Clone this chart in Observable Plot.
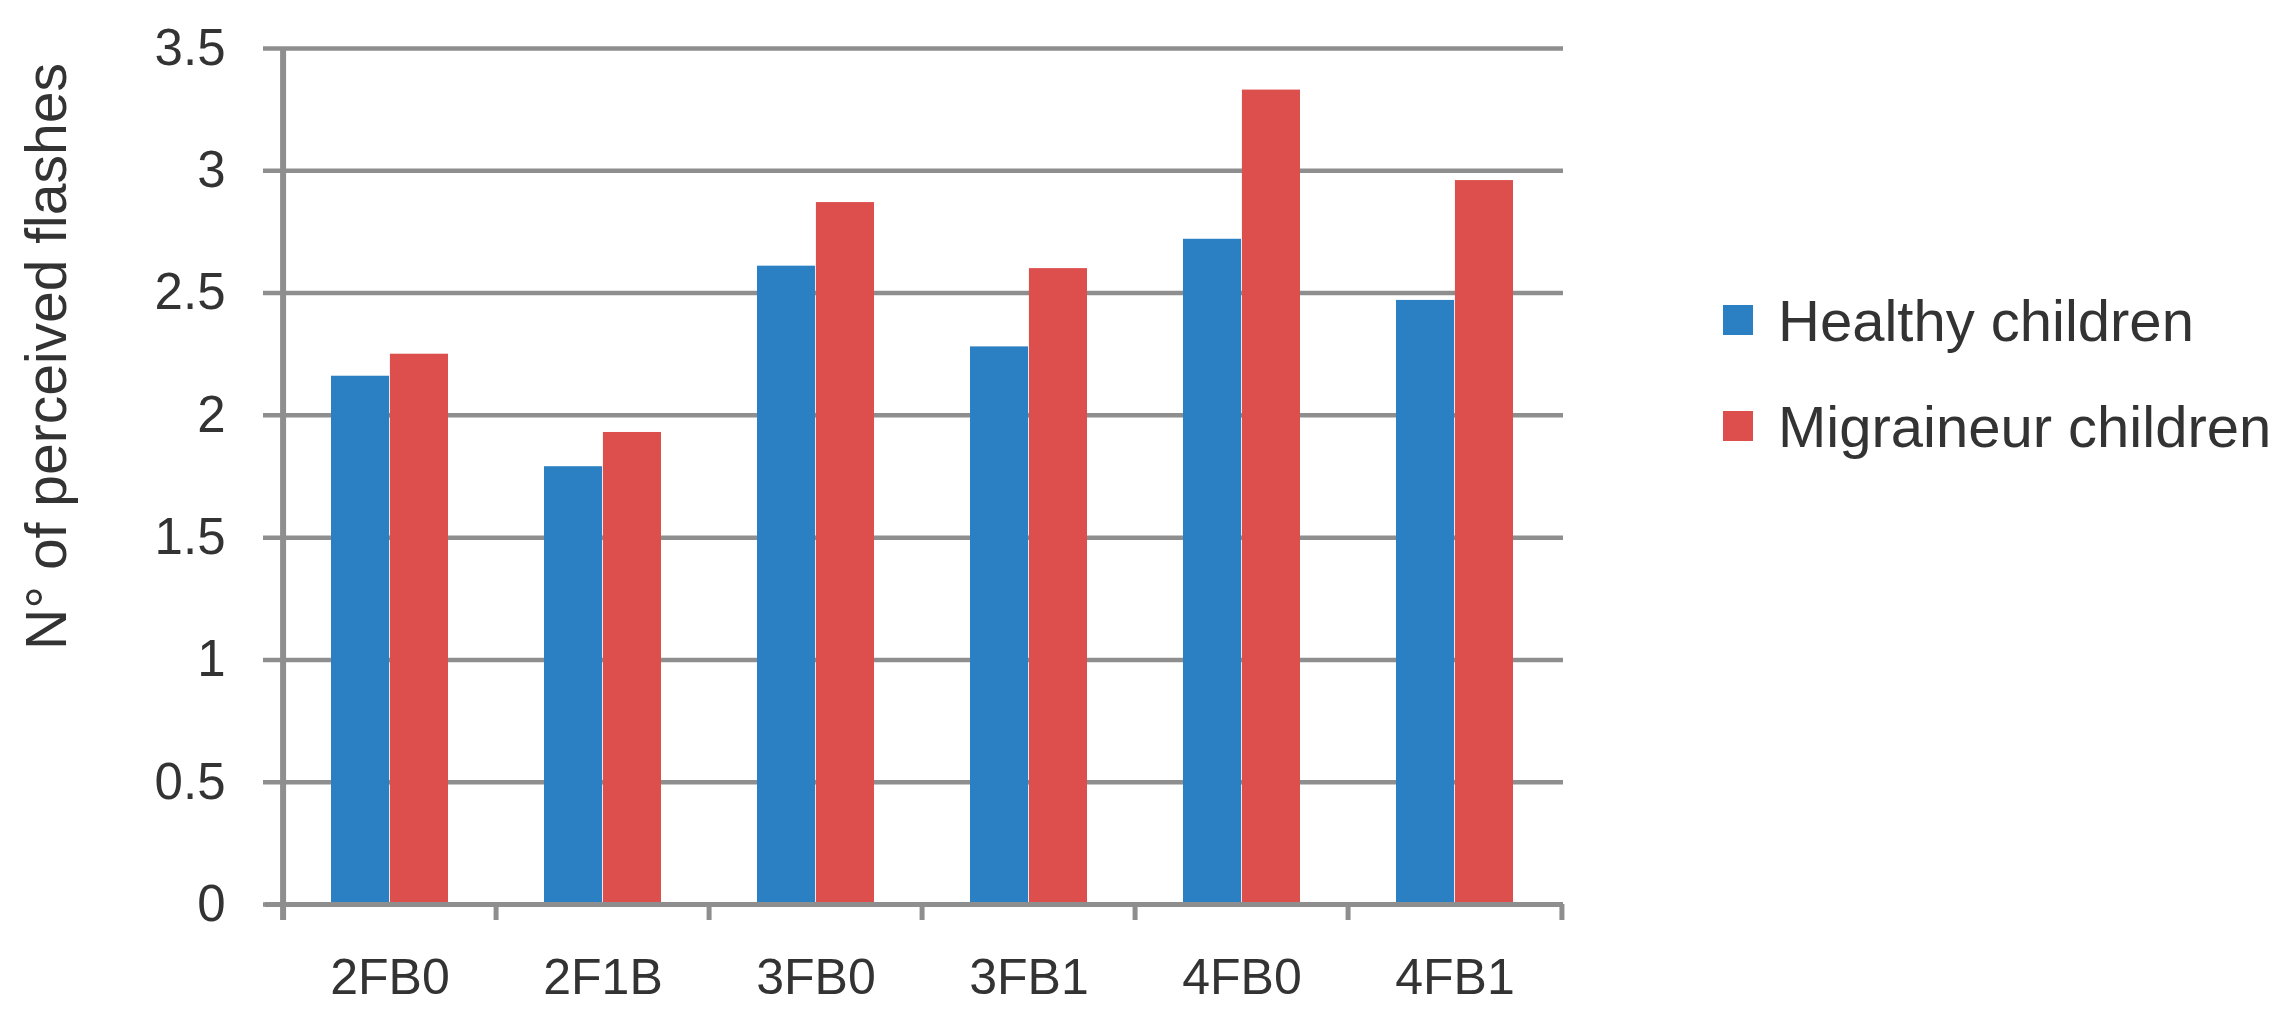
<!DOCTYPE html>
<html>
<head>
<meta charset="utf-8">
<script src="https://cdn.jsdelivr.net/npm/d3@7"></script>
<script src="https://cdn.jsdelivr.net/npm/@observablehq/plot@0.6"></script>
<style>
  html, body { margin: 0; padding: 0; background: #fff; }
  #wrap { display: flex; flex-direction: row; align-items: flex-start; width: 2295px; height: 1028px; overflow: hidden; }
  #chart svg { flex-shrink: 0; max-width: none; }
  #legend { margin-left: 23px; padding-top: 267px; font-family: "Liberation Sans", Arial, sans-serif; font-size: 58px; color: #333; }
  .item { display: flex; align-items: center; height: 106px; white-space: nowrap; }
  .swatch { width: 30px; height: 30px; margin-right: 25px; flex-shrink: 0; }
</style>
</head>
<body>
<div id="wrap">
  <div id="chart"></div>
  <div id="legend"></div>
</div>
<script>
// ---- data ----
const categories = ["2FB0", "2F1B", "3FB0", "3FB1", "4FB0", "4FB1"];
const seriesNames = ["Healthy children", "Migraineur children"];
const healthy = [2.16, 1.79, 2.61, 2.28, 2.72, 2.47];
const migraineur = [2.25, 1.93, 2.87, 2.60, 3.33, 2.96];
const yTicks = [0, 0.5, 1, 1.5, 2, 2.5, 3, 3.5];
const yTitle = "N° of perceived flashes";
const colors = ["#2a80c2", "#dd4f4d"];

// ---- table ----
const table = [];
categories.forEach((c, i) => {
  table.push({category: c, series: seriesNames[0], value: healthy[i]});
  table.push({category: c, series: seriesNames[1], value: migraineur[i]});
});

// ---- layout ----
const W = 1700, H = 1028;
const mL = 280, mR = 137, mT = 48, mB = 124;
const band = (W - mL - mR) / categories.length;
const outer = 0.2245 * band;
const barW = (band - 2 * outer) / 2;
const gray = "#8e8e8e";

const chart = Plot.plot({
  width: W,
  height: H,
  marginLeft: mL,
  marginRight: mR,
  marginTop: mT,
  marginBottom: mB,
  style: {fontFamily: "Liberation Sans, Arial, sans-serif", background: "#fff", overflow: "visible"},
  x: {domain: categories, padding: 0, axis: null},
  y: {domain: [0, 3.5], axis: null},
  color: {domain: seriesNames, range: colors},
  marks: [
    // gridlines + left tick stubs
    Plot.ruleY(yTicks, {y: d => d, stroke: gray, strokeWidth: 4.5, insetLeft: -17}),
    // y tick labels
    Plot.axisY({ticks: yTicks, tickSize: 0, tickPadding: 55, tickFormat: d => String(d), fontSize: 51, color: "#333", label: null}),
    // bars
    Plot.barY(table.filter(d => d.series === seriesNames[0]), {
      x: "category", y: "value", fill: "series",
      insetLeft: outer, insetRight: band - outer - barW
    }),
    Plot.barY(table.filter(d => d.series === seriesNames[1]), {
      x: "category", y: "value", fill: "series",
      insetLeft: outer + barW, insetRight: outer
    }),
    // vertical axis line (left edge of first band), extending below zero
    Plot.ruleX([categories[0]], {x: d => d, dx: -band / 2, stroke: gray, strokeWidth: 6, insetBottom: -16}),
    // category boundary ticks
    Plot.ruleX(categories.slice(1), {x: d => d, y1: 0, y2: 0, dx: -band / 2, stroke: gray, strokeWidth: 5, insetBottom: -16}),
    Plot.ruleX(categories.slice(-1), {x: d => d, y1: 0, y2: 0, dx: band / 2, stroke: gray, strokeWidth: 5, insetBottom: -16}),
    // zero line on top
    Plot.ruleY([0], {y: d => d, stroke: gray, strokeWidth: 5, insetLeft: -15}),
    // x labels
    Plot.axisX({tickSize: 0, tickPadding: 54, fontSize: 50, color: "#333", label: null}),
    // y title
    Plot.text([yTitle], {
      text: d => d, frameAnchor: "left", textAnchor: "middle", rotate: -90,
      dx: -233, dy: -120, fontSize: 57, fill: "#333"
    })
  ]
});
document.getElementById("chart").appendChild(chart);

// ---- legend ----
const legend = document.getElementById("legend");
seriesNames.forEach((name, i) => {
  const item = document.createElement("div");
  item.className = "item";
  const sw = document.createElement("div");
  sw.className = "swatch";
  sw.style.background = colors[i];
  const label = document.createElement("span");
  label.textContent = name;
  item.appendChild(sw);
  item.appendChild(label);
  legend.appendChild(item);
});
</script>
</body>
</html>
